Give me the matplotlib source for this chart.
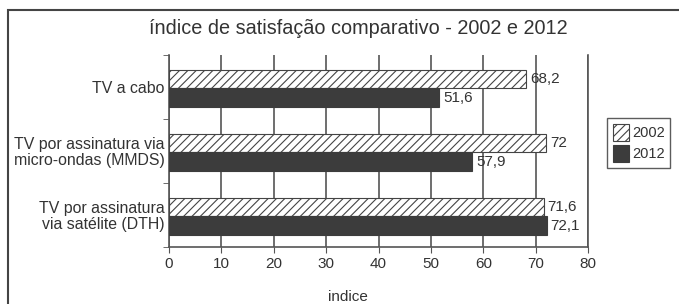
import matplotlib.pyplot as plt
from matplotlib.patches import Rectangle
import numpy as np

plt.rcParams['font.family'] = ['Liberation Sans', 'DejaVu Sans']
plt.rcParams['hatch.color'] = '#555555'
plt.rcParams['hatch.linewidth'] = 0.8

categorias = ['TV a cabo', 'TV por assinatura via\nmicro-ondas (MMDS)',
              'TV por assinatura\nvia satélite (DTH)']
v2002 = [68.2, 72, 71.6]
v2012 = [51.6, 57.9, 72.1]
rotulos2002 = ['68,2', '72', '71,6']
rotulos2012 = ['51,6', '57,9', '72,1']

txt = '#333333'
fig = plt.figure(figsize=(6.79, 3.04), dpi=100)
ax = fig.add_axes([0.2489, 0.1875, 0.6171, 0.6316])

y = np.arange(len(categorias))[::-1]
h = 0.29
ax.barh(y + h / 2 - 0.02, v2002, height=h, color='white', edgecolor='#444444',
        hatch='////', linewidth=0.8, label='2002', zorder=3)
ax.barh(y - h / 2 - 0.02, v2012, height=h, color='#3c3c3c', edgecolor='#3c3c3c',
        linewidth=0.8, label='2012', zorder=3)

for yi, v, r in zip(y, v2002, rotulos2002):
    ax.text(v + 0.7, yi + h / 2 - 0.02, r, va='center', ha='left', fontsize=11, color=txt)
for yi, v, r in zip(y, v2012, rotulos2012):
    ax.text(v + 0.7, yi - h / 2 - 0.02, r, va='center', ha='left', fontsize=11, color=txt)

ax.set_xlim(0, 80)
ax.set_ylim(-0.5, 2.5)
ax.set_xticks(range(0, 81, 10))
ax.set_yticks(y)
ax.set_yticklabels(categorias, fontsize=11.4, color=txt, linespacing=1.05)
ax.set_yticks([-0.5, 0.5, 1.5, 2.5], minor=True)
ax.tick_params(axis='y', which='major', length=0, pad=3)
ax.tick_params(axis='y', which='minor', length=4, color='#555555')
ax.tick_params(axis='x', labelsize=11, labelcolor=txt, length=4, color='#555555')
ax.xaxis.grid(True, color='#555555', linewidth=1.2, zorder=0)
ax.spines['top'].set_visible(False)
for s in ['left', 'right', 'bottom']:
    ax.spines[s].set_color('#555555')
    ax.spines[s].set_linewidth(1.2)
ax.set_xlabel('indice', fontsize=11, color=txt, va='center')
ax.xaxis.set_label_coords(0.427, -50 / 192)

fig.text(358 / 679, 1 - 29 / 304, 'índice de satisfação comparativo - 2002 e 2012',
         fontsize=14.3, color=txt, ha='center', va='center')

fig.legend(loc='upper left', bbox_to_anchor=(0.894, 0.612), fontsize=10.5,
           frameon=True, fancybox=False, edgecolor='#333333',
           handlelength=1.1, handleheight=1.4, handletextpad=0.2,
           borderpad=0.4, labelspacing=0.3, labelcolor=txt, borderaxespad=0)

fig.add_artist(Rectangle((8 / 679, -0.1), 1.5, 1 - 10 / 304 + 0.1,
                         transform=fig.transFigure, fill=False,
                         edgecolor='#444444', linewidth=1.5))

fig.savefig('out.png', dpi=100)
